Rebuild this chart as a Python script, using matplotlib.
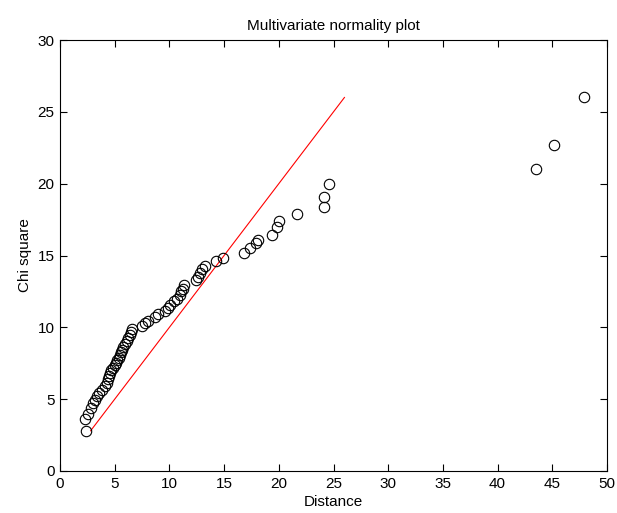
import matplotlib
matplotlib.use("Agg")
import matplotlib.pyplot as plt

distance = [2.4, 2.3, 2.6, 2.8, 3.0, 3.2, 3.4, 3.6, 3.85, 4.1, 4.3, 4.4, 4.5, 4.6, 4.7,
            4.85, 5.0, 5.1, 5.25, 5.4, 5.5, 5.6, 5.7, 5.8, 5.95, 6.1, 6.25, 6.4, 6.5, 6.6,
            7.5, 7.8, 8.0, 8.7, 9.0, 9.6, 9.85, 10.1, 10.4, 10.7, 11.0, 11.1, 11.2, 11.3,
            12.4, 12.65, 12.8, 12.95, 13.25, 14.3, 14.9, 16.8, 17.4, 17.9, 18.1, 19.4,
            19.8, 20.0, 21.7, 24.1, 24.1, 24.6, 43.5, 45.2, 47.9]
chi_square = [2.8, 3.6, 4.0, 4.4, 4.7, 4.95, 5.2, 5.45, 5.65, 5.9, 6.15, 6.4, 6.6, 6.8, 7.0,
              7.2, 7.35, 7.5, 7.7, 7.85, 8.05, 8.25, 8.45, 8.65, 8.85, 9.05, 9.25, 9.45, 9.65, 9.85,
              10.1, 10.3, 10.45, 10.7, 10.9, 11.15, 11.35, 11.55, 11.8, 12.0, 12.25, 12.5, 12.7, 12.95,
              13.3, 13.5, 13.75, 14.05, 14.3, 14.6, 14.8, 15.2, 15.5, 15.9, 16.1, 16.4,
              17.0, 17.4, 17.9, 18.4, 19.1, 20.0, 21.0, 22.7, 26.0]
ref_line = [2.8, 26.0]

plt.rcParams['font.family'] = ['Liberation Sans', 'DejaVu Sans']

fig = plt.figure(figsize=(6.17, 5.13), dpi=100)
ax = fig.add_axes([60/617, 1-471/513, 547/617, 431/513])

ax.plot(ref_line, ref_line, color='red', lw=0.8)
ax.plot(distance, chi_square, 'o', mfc='none', mec='black', ms=7.5, mew=0.8)

ax.set_xlim(0, 50)
ax.set_ylim(0, 30)
ax.set_xticks(range(0, 51, 5))
ax.set_yticks(range(0, 31, 5))
ax.tick_params(direction='in', length=5, width=0.8, top=True, right=True,
               labelsize=11, pad=4)
for s in ax.spines.values():
    s.set_linewidth(0.8)
ax.set_title('Multivariate normality plot', fontsize=11, pad=7)
ax.set_xlabel('Distance', fontsize=11, labelpad=3)
ax.set_ylabel('Chi square', fontsize=11, labelpad=4)

fig.savefig('out.png', dpi=100)
